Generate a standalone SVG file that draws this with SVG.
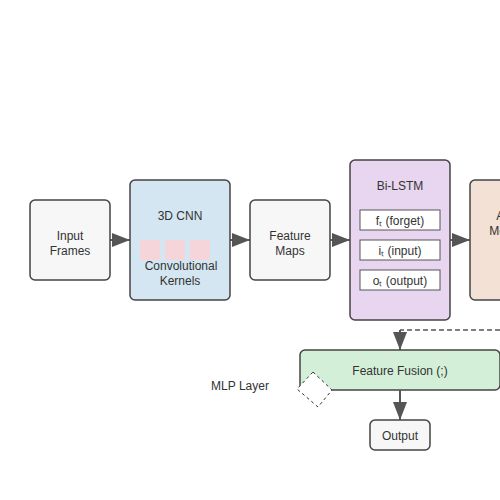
<svg xmlns="http://www.w3.org/2000/svg" width="500" height="500" viewBox="0 0 500 500">
<defs>
<style>
.node{stroke:#444;stroke-width:1.5}
.t{font-family:"Liberation Sans",Arial,sans-serif;font-size:12px;fill:#333;text-anchor:middle}
.sub{fill:#fff;stroke:#555;stroke-width:1}
.k{fill:#f5d5da}
.c{stroke:#555;stroke-width:2;fill:none}
</style>
<marker id="ah" viewBox="0 0 18 14" refX="18" refY="7" markerWidth="18" markerHeight="14" markerUnits="userSpaceOnUse" orient="auto">
<path d="M0,0 L18,7 L0,14 z" fill="#555"/>
</marker>
</defs>
<rect width="500" height="500" fill="#fff"/>
<g id="input">
<rect class="node" x="30" y="200" width="80" height="80" rx="5" fill="#f7f7f7"/>
<text class="t" x="70" y="240">Input</text>
<text class="t" x="70" y="255">Frames</text>
</g>
<g id="cnn">
<rect class="node" x="130" y="180" width="100" height="120" rx="5" fill="#d4e6f1"/>
<text class="t" x="180" y="220">3D CNN</text>
<rect class="k" x="140" y="240" width="20" height="20"/>
<rect class="k" x="165" y="240" width="20" height="20"/>
<rect class="k" x="190" y="240" width="20" height="20"/>
<text class="t" x="181" y="270">Convolutional</text>
<text class="t" x="180" y="285">Kernels</text>
</g>
<g id="featmaps">
<rect class="node" x="250" y="200" width="80" height="80" rx="5" fill="#f7f7f7"/>
<text class="t" x="290" y="240">Feature</text>
<text class="t" x="290" y="255">Maps</text>
</g>
<g id="bilstm">
<rect class="node" x="350" y="160" width="100" height="160" rx="5" fill="#e8d5f0"/>
<text class="t" x="400" y="190">Bi-LSTM</text>
<rect class="sub" x="360" y="210" width="80" height="20"/>
<text class="t" x="400" y="225">fₜ (forget)</text>
<rect class="sub" x="360" y="240" width="80" height="20"/>
<text class="t" x="400" y="255">iₜ (input)</text>
<rect class="sub" x="360" y="270" width="80" height="20"/>
<text class="t" x="400" y="285">oₜ (output)</text>
</g>
<g id="attention">
<rect class="node" x="470" y="180" width="100" height="120" rx="5" fill="#f2e1d4"/>
<text class="t" x="520" y="220">Attention</text>
<text class="t" x="520" y="235">Mechanism</text>
</g>
<g id="fusion">
<rect class="node" x="300" y="350" width="200" height="40" rx="5" fill="#d4efd8"/>
<text class="t" x="400" y="375">Feature Fusion (;)</text>
</g>
<g id="mlp">
<text class="t" x="240" y="390">MLP Layer</text>
<polygon points="313,372 332,390 318,407 297,389" fill="#fff" stroke="#333" stroke-width="1" stroke-dasharray="3,3"/>
</g>
<g id="output">
<rect class="node" x="370" y="420" width="60" height="30" rx="5" fill="#f7f7f7"/>
<text class="t" x="400" y="440">Output</text>
</g>
<g id="connectors">
<line class="c" x1="110" y1="240" x2="130" y2="240" marker-end="url(#ah)"/>
<line class="c" x1="230" y1="240" x2="250" y2="240" marker-end="url(#ah)"/>
<line class="c" x1="330" y1="240" x2="350" y2="240" marker-end="url(#ah)"/>
<line class="c" x1="450" y1="240" x2="470" y2="240" marker-end="url(#ah)"/>
<polyline points="500,330 400,330" fill="none" stroke="#555" stroke-width="1.5" stroke-dasharray="5,3"/>
<line class="c" x1="400" y1="330" x2="400" y2="350" marker-end="url(#ah)"/>
<line class="c" x1="400" y1="390" x2="400" y2="420" marker-end="url(#ah)"/>
</g>
</svg>
